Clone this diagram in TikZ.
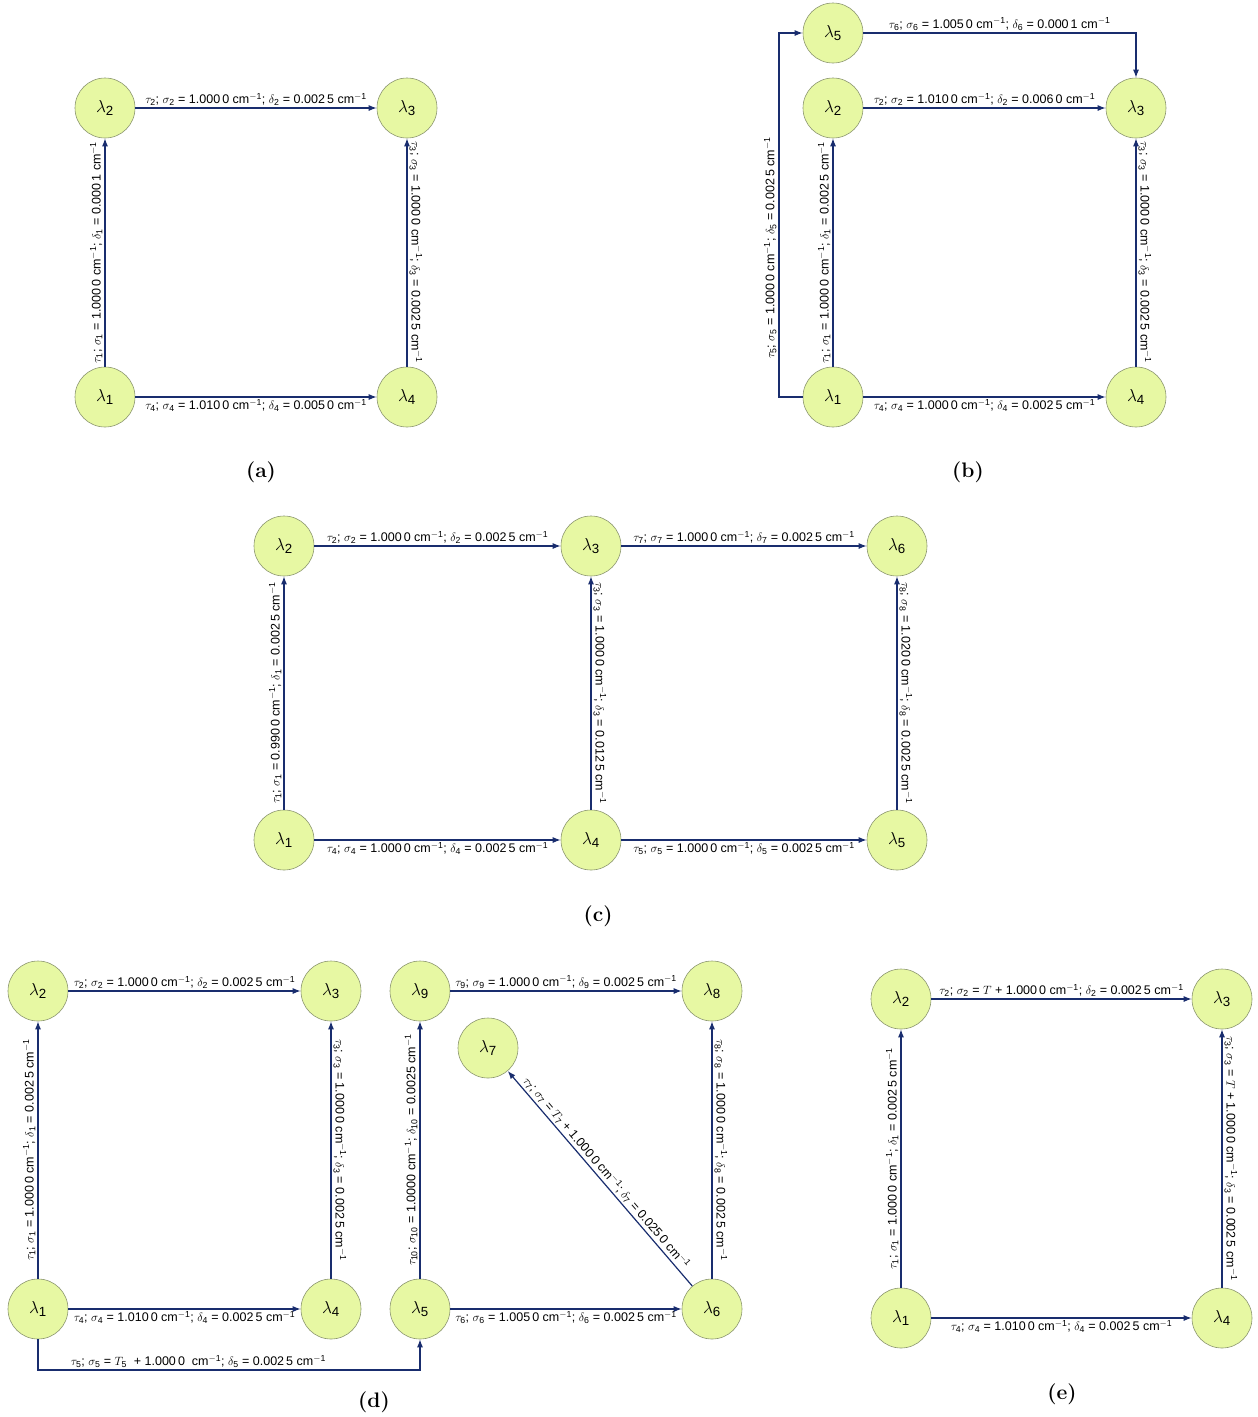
\documentclass[tikz,border=0pt]{standalone}
\usepackage{fontspec}
\setsansfont{Liberation Sans}
\usetikzlibrary{arrows.meta}
\definecolor{nodefill}{RGB}{231,248,163}
\definecolor{nodedraw}{RGB}{140,150,112}
\definecolor{edgecol}{RGB}{25,45,110}
\tikzset{
 lam/.style={circle, draw=nodedraw, fill=nodefill, line width=0.6pt, minimum size=60pt, inner sep=0pt, font=\fontsize{19}{22}\selectfont},
 conn/.style={draw=edgecol, line width=1.2pt, -{Latex[length=8pt,width=6pt]}},
 lab/.style={font=\sffamily\fontsize{12.5}{14}\selectfont, inner sep=2pt, text=black},
 up/.style={lab, anchor=south},
 dn/.style={lab, anchor=north},
 lft/.style={lab, rotate=90, anchor=south},
 rgt/.style={lab, rotate=-90, anchor=south},
 capt/.style={font=\rmfamily\bfseries\fontsize{21}{24}\selectfont},
}
\newcommand{\cmi}{cm\textsuperscript{\(-\)1}}
\newcommand{\ly}[1]{\(\lambda_{\mathsf{#1}}\)}
\newcommand{\lbl}[3]{\(\tau_{\mathsf{#1}}\); \(\sigma_{\mathsf{#1}}\) = #2 \cmi; \(\delta_{\mathsf{#1}}\) = #3 \cmi}
\begin{document}
\begin{tikzpicture}[x=1pt,y=-1pt]
\useasboundingbox (0,0) rectangle (1258,1417);
% ---------- (a)
\node[lam] (a2) at (105,108) {\ly2};
\node[lam] (a3) at (407,108) {\ly3};
\node[lam] (a1) at (105,397) {\ly1};
\node[lam] (a4) at (407,397) {\ly4};
\draw[conn] (a2) -- node[up]{\lbl{2}{1.000\,0}{0.002\,5}} (a3);
\draw[conn] (a1) -- node[lft]{\lbl{1}{1.000\,0}{0.000\,1}} (a2);
\draw[conn] (a4) -- node[rgt]{\lbl{3}{1.000\,0}{0.002\,5}} (a3);
\draw[conn] (a1) -- node[dn]{\lbl{4}{1.010\,0}{0.005\,0}} (a4);
\node[capt] (capa) at (261,472) {(a)};
% ---------- (b)
\node[lam] (b5) at (833,33) {\ly5};
\node[lam] (b2) at (833,108) {\ly2};
\node[lam] (b3) at (1136,108) {\ly3};
\node[lam] (b1) at (833,397) {\ly1};
\node[lam] (b4) at (1136,397) {\ly4};
\coordinate (bc1) at (779,397);
\coordinate (bc2) at (779,33);
\draw[conn] (b5) -- node[up]{\lbl{6}{1.005\,0}{0.000\,1}} (b5 -| b3) -- (b3);
\draw[conn] (b2) -- node[up]{\lbl{2}{1.010\,0}{0.006\,0}} (b3);
\draw[conn] (b1) -- (bc1) -- node[lft,pos=0.41]{\lbl{5}{1.000\,0}{0.002\,5}} (bc2) -- (b5);
\draw[conn] (b1) -- node[lft]{\lbl{1}{1.000\,0}{0.002\,5}} (b2);
\draw[conn] (b4) -- node[rgt]{\lbl{3}{1.000\,0}{0.002\,5}} (b3);
\draw[conn] (b1) -- node[dn]{\lbl{4}{1.000\,0}{0.002\,5}} (b4);
\node[capt] (capb) at (968,472) {(b)};
% ---------- (c)
\node[lam] (c2) at (284,546) {\ly2};
\node[lam] (c3) at (591,546) {\ly3};
\node[lam] (c6) at (897,546) {\ly6};
\node[lam] (c1) at (284,840) {\ly1};
\node[lam] (c4) at (591,840) {\ly4};
\node[lam] (c5) at (897,840) {\ly5};
\draw[conn] (c2) -- node[up]{\lbl{2}{1.000\,0}{0.002\,5}} (c3);
\draw[conn] (c3) -- node[up]{\lbl{7}{1.000\,0}{0.002\,5}} (c6);
\draw[conn] (c1) -- node[lft]{\lbl{1}{0.990\,0}{0.002\,5}} (c2);
\draw[conn] (c4) -- node[rgt]{\lbl{3}{1.000\,0}{0.012\,5}} (c3);
\draw[conn] (c5) -- node[rgt]{\lbl{8}{1.020\,0}{0.002\,5}} (c6);
\draw[conn] (c1) -- node[dn]{\lbl{4}{1.000\,0}{0.002\,5}} (c4);
\draw[conn] (c4) -- node[dn]{\lbl{5}{1.000\,0}{0.002\,5}} (c5);
\node[capt] (capc) at (598,916) {(c)};
% ---------- (d)
\node[lam] (d2) at (38,991) {\ly2};
\node[lam] (d3) at (331,991) {\ly3};
\node[lam] (d1) at (38,1309) {\ly1};
\node[lam] (d4) at (331,1309) {\ly4};
\node[lam] (d9) at (420,991) {\ly9};
\node[lam] (d8) at (712,991) {\ly8};
\node[lam] (d7) at (488,1048) {\ly7};
\node[lam] (d5) at (420,1309) {\ly5};
\node[lam] (d6) at (712,1309) {\ly6};
\coordinate (dc1) at (38,1370);
\coordinate (dc2) at (420,1370);
\draw[conn] (d2) -- node[up]{\lbl{2}{1.000\,0}{0.002\,5}} (d3);
\draw[conn] (d1) -- node[lft]{\lbl{1}{1.000\,0}{0.002\,5}} (d2);
\draw[conn] (d4) -- node[rgt]{\lbl{3}{1.000\,0}{0.002\,5}} (d3);
\draw[conn] (d1) -- node[dn]{\lbl{4}{1.010\,0}{0.002\,5}} (d4);
\draw[conn] (d1) -- (dc1) -- node[up,pos=0.42]{\(\tau_{\mathsf{5}}\); \(\sigma_{\mathsf{5}}\) = \(T_{\mathsf{5}}\)\ \ + 1.000\,0\ \ \cmi; \(\delta_{\mathsf{5}}\) = 0.002\,5 \cmi} (dc2) -- (d5);
\draw[conn] (d5) -- node[lft]{\lbl{10}{1.0000}{0.0025}} (d9);
\draw[conn] (d9) -- node[up]{\lbl{9}{1.000\,0}{0.002\,5}} (d8);
\draw[conn] (d6) -- node[rgt]{\lbl{8}{1.000\,0}{0.002\,5}} (d8);
\draw[conn] (d5) -- node[dn]{\lbl{6}{1.005\,0}{0.002\,5}} (d6);
\draw[conn] (d6) -- node[lab,rotate=-49.4,anchor=south]{\lbl{7}{\(T_{\mathsf{7}}\) + 1.000\,0}{0.025\,0}} (d7);
\node[capt] (capd) at (374,1402) {(d)};
% ---------- (e)
\node[lam] (e2) at (901,999) {\ly2};
\node[lam] (e3) at (1222,999) {\ly3};
\node[lam] (e1) at (901,1318) {\ly1};
\node[lam] (e4) at (1222,1318) {\ly4};
\draw[conn] (e2) -- node[up]{\lbl{2}{\(T\) + 1.000\,0}{0.002\,5}} (e3);
\draw[conn] (e1) -- node[lft]{\lbl{1}{1.000\,0}{0.002\,5}} (e2);
\draw[conn] (e4) -- node[rgt]{\lbl{3}{\(T\) + 1.000\,0}{0.002\,5}} (e3);
\draw[conn] (e1) -- node[dn]{\lbl{4}{1.010\,0}{0.002\,5}} (e4);
\node[capt] (cape) at (1062,1394) {(e)};
\end{tikzpicture}
\end{document}
